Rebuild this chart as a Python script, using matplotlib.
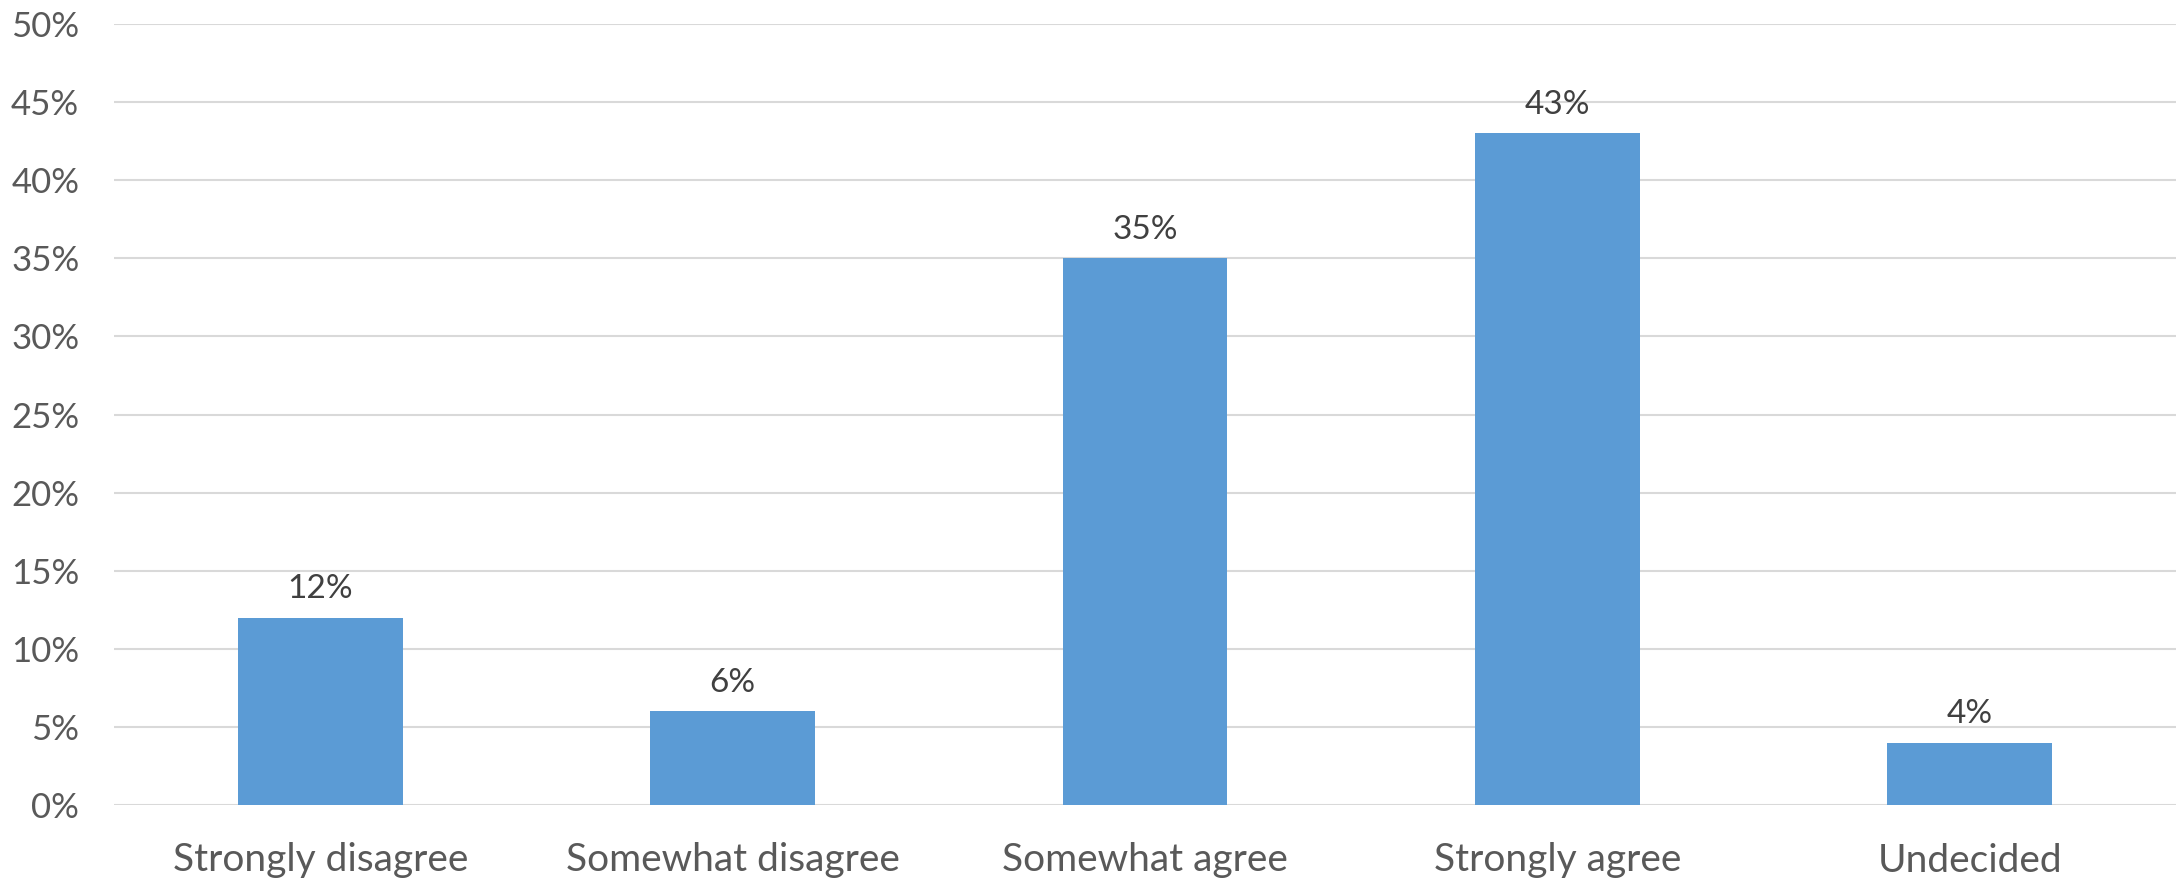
import matplotlib
matplotlib.use("Agg")
import matplotlib.pyplot as plt
from matplotlib.ticker import FuncFormatter, MultipleLocator

categories = ["Strongly disagree", "Somewhat disagree", "Somewhat agree", "Strongly agree", "Undecided"]
values = [12, 6, 35, 43, 4]

plt.rcParams["font.family"] = ["Lato", "DejaVu Sans"]

fig = plt.figure(figsize=(21.83, 8.82), dpi=100)
ax = fig.add_axes([114 / 2183, 1 - 805 / 882, (2176 - 114) / 2183, (805 - 24) / 882])

x = range(len(categories))
bars = ax.bar(x, values, width=0.4, color="#5b9bd5", zorder=3)

ax.set_xlim(-0.5, len(categories) - 0.5)
ax.set_ylim(0, 50)
ax.yaxis.set_major_locator(MultipleLocator(5))
ax.yaxis.set_major_formatter(FuncFormatter(lambda v, _: f"{v:.0f}%"))
ax.grid(axis="y", color="#d9d9d9", linewidth=1.5, zorder=0)

for s in ax.spines.values():
    s.set_visible(False)
ax.tick_params(axis="both", length=0)
ax.tick_params(axis="y", labelsize=25, labelcolor="#595959", pad=25)
ax.set_xticks(list(x))
ax.set_xticklabels(categories, fontsize=28, color="#595959")
ax.tick_params(axis="x", pad=27)

for b, v in zip(bars, values):
    ax.annotate(f"{v}%", (b.get_x() + b.get_width() / 2, v), xytext=(0, 14),
                textcoords="offset points", ha="center", va="baseline",
                fontsize=24, color="#404040")

fig.savefig("out.png", dpi=100, facecolor="white")
